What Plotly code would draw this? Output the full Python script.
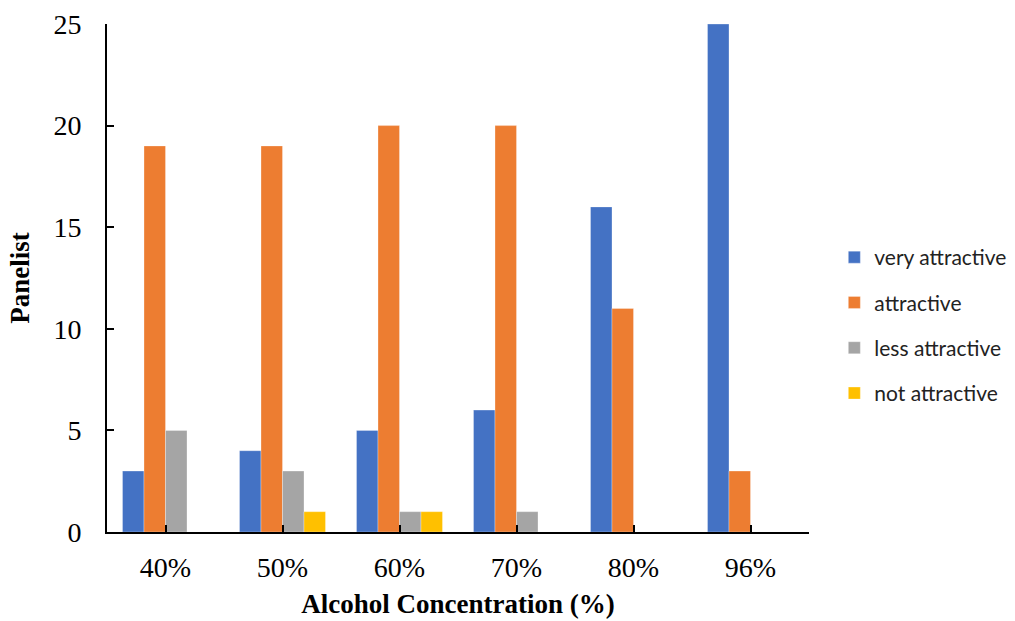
import plotly.graph_objects as go

categories = ["40%", "50%", "60%", "70%", "80%", "96%"]
very_attractive = [3, 4, 5, 6, 16, 25]
attractive = [19, 19, 20, 20, 11, 3]
less_attractive = [5, 3, 1, 1, 0, 0]
not_attractive = [0, 1, 1, 0, 0, 0]

series = [
    ("very attractive", very_attractive, "#4472C4"),
    ("attractive", attractive, "#ED7D31"),
    ("less attractive", less_attractive, "#A5A5A5"),
    ("not attractive", not_attractive, "#FFC000"),
]

xpos = list(range(len(categories)))

fig = go.Figure()
for name, vals, color in series:
    fig.add_trace(go.Bar(
        x=xpos, y=vals, name=name, legendgroup=name,
        marker=dict(color=color, line=dict(color="rgba(255,255,255,0.6)", width=0.5)),
    ))

serif = "Liberation Serif, Times New Roman, serif"

fig.update_layout(
    width=1015, height=621,
    margin=dict(l=107, r=206, t=24, b=89, autoexpand=False),
    paper_bgcolor="white", plot_bgcolor="white",
    barmode="group", bargap=0.265, bargroupgap=0,
    showlegend=True,
    legend=dict(
        xref="container", yref="container",
        x=0.822, y=1 - 237 / 621, xanchor="left", yanchor="top",
        font=dict(family="Lato, Open Sans, sans-serif", size=21, color="#222"),
        tracegroupgap=15, bgcolor="rgba(0,0,0,0)",
    ),
    xaxis=dict(
        range=[-0.5, 5.5],
        tickmode="array",
        tickvals=xpos + [5.5],
        ticktext=categories + [""],
        ticks="inside", ticklen=7, tickwidth=2, tickcolor="black",
        ticklabelstandoff=9,
        showline=True, linecolor="black", linewidth=2,
        showgrid=False, zeroline=False,
        tickfont=dict(family=serif, size=28, color="black"),
        title=dict(text="<b>Alcohol Concentration (%)</b>",
                   font=dict(family=serif, size=27, color="black"), standoff=13),
    ),
    yaxis=dict(
        range=[0, 25], dtick=5,
        ticks="inside", ticklen=7, tickwidth=2, tickcolor="black",
        ticklabelstandoff=18,
        showline=True, linecolor="black", linewidth=2,
        showgrid=False, zeroline=False,
        tickfont=dict(family=serif, size=28, color="black"),
        title=dict(text="<b>Panelist</b>",
                   font=dict(family=serif, size=27, color="black"), standoff=16),
    ),
)

fig.write_html("out.html")
